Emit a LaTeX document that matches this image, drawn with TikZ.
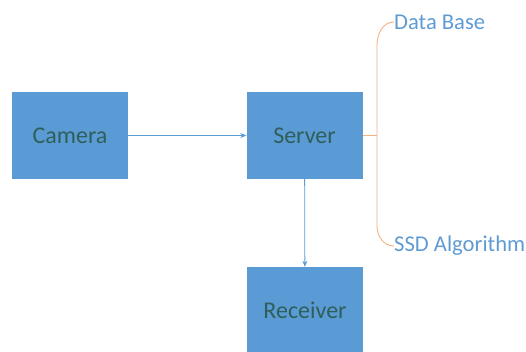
\documentclass[tikz,border=0pt]{standalone}
\usepackage{fontspec}
\setmainfont{Carlito}
\usetikzlibrary{arrows.meta}
\definecolor{boxblue}{HTML}{5B9BD5}
\definecolor{boxtext}{HTML}{2F5F5A}
\definecolor{labblue}{HTML}{5F9BD2}
\definecolor{braceor}{HTML}{F4B183}
\tikzset{
  block/.style={fill=boxblue, text=boxtext, minimum width=116pt, minimum height=87pt, inner sep=0pt, font=\fontsize{24}{26}\selectfont},
  link/.style={draw=boxblue, line width=0.8pt, -{Stealth[length=6pt,width=5pt]}},
  brace/.style={draw=braceor, line width=0.9pt},
  lab/.style={text=labblue, inner sep=0pt, anchor=west, font=\fontsize{22.6}{24}\selectfont}
}
\begin{document}
\begin{tikzpicture}[x=1pt, y=-1pt]
				            \useasboundingbox (0,0) rectangle (526,352);
				            \node[block] (camera) at (70,135.5) {Camera};
				            \node[block] (server) at (304.5,135.5) {Server};
				            \node[block] (receiver) at (305,310.5) {Receiver};
				            \node[lab] (db) at (394,22) {Data Base};
				            \node[lab] (ssd) at (394,246) {SSD Algorithm};
				            \coordinate (jn) at (377,135.5);

				            \draw[link] (camera) -- (server);
				            \draw[link] (server) -- (receiver);
				            \draw[brace] (server.east) -- (jn);
				            \draw[brace] (db.west) to[out=180,in=90] (jn |- 0,45) -- (jn |- 0,226) to[out=-90,in=180] (ssd.west);

			            \end{tikzpicture}
\end{document}
